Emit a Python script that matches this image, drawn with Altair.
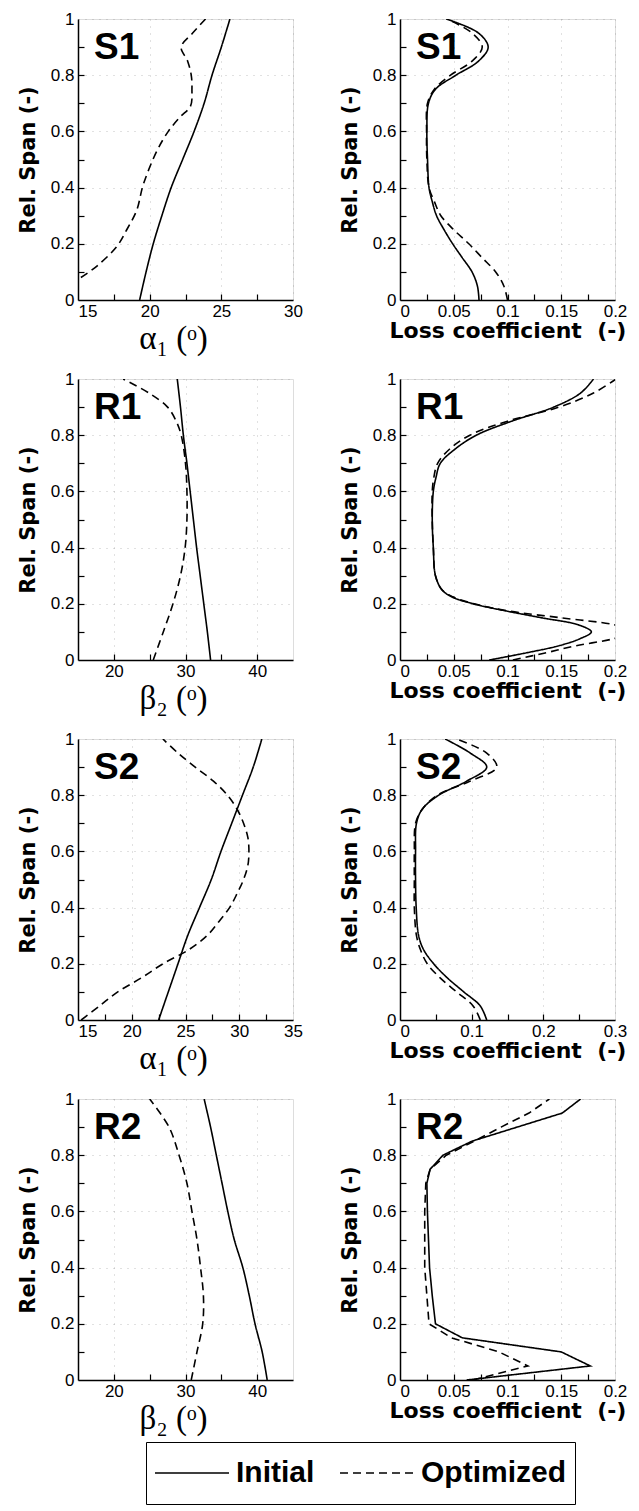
import altair as alt
import pandas as pd

SERIES = ["Initial", "Optimized"]
PANEL_NAMES = ["S1", "S1", "R1", "R1", "S2", "S2", "R2", "R2"]
Y_TITLE = "Rel. Span (-)"
LOSS_TITLE = "Loss coefficient\u00a0 (-)"
ALPHA_TITLE = "\u03b1\u2081 (\u1d52)"
BETA_TITLE = "\u03b2\u2082 (\u1d52)"

Y_LABELS = [0, 0.2, 0.4, 0.6, 0.8, 1]
Y_TICKS = [0.1, 0.2, 0.3, 0.4, 0.5, 0.6, 0.7, 0.8, 0.9]

# ---- S1 : exit flow angle alpha1 ----
s1a_span_i = [0, 0.1, 0.2, 0.3, 0.4, 0.5, 0.6, 0.7, 0.8, 0.9, 1.0]
s1a_init = [19.3, 19.75, 20.25, 20.85, 21.5, 22.3, 23.1, 23.8, 24.35, 25.0, 25.6]
s1a_span_o = [0.08, 0.12, 0.19, 0.25, 0.32, 0.41, 0.53, 0.6, 0.65, 0.69, 0.75, 0.8, 0.85, 0.9, 0.95, 1.0]
s1a_opt = [15.2, 16.3, 17.7, 18.4, 19.1, 19.55, 20.5, 21.3, 22.1, 22.85, 22.95, 22.9, 22.65, 22.2, 23.0, 23.9]

# ---- S1 : loss coefficient ----
s1l_span = [0, 0.05, 0.1, 0.15, 0.2, 0.25, 0.3, 0.35, 0.4, 0.5, 0.6, 0.7, 0.75, 0.8, 0.85, 0.9, 0.95, 1.0]
s1l_init = [0.0735, 0.072, 0.067, 0.058, 0.049, 0.041, 0.034, 0.030, 0.027, 0.0256, 0.025, 0.0265, 0.033, 0.052, 0.073, 0.082, 0.073, 0.043]
s1l_opt = [0.100, 0.0966, 0.089, 0.0765, 0.064, 0.050, 0.038, 0.032, 0.027, 0.025, 0.0247, 0.0256, 0.032, 0.047, 0.067, 0.0765, 0.067, 0.044]

# ---- R1 : exit flow angle beta2 ----
r1b_span_i = [0, 0.1, 0.2, 0.3, 0.4, 0.5, 0.6, 0.7, 0.8, 0.9, 1.0]
r1b_init = [33.5, 33.05, 32.55, 32.05, 31.55, 31.1, 30.65, 30.2, 29.7, 29.3, 28.85]
r1b_span_o = [0, 0.1, 0.2, 0.3, 0.4, 0.5, 0.6, 0.7, 0.8, 0.85, 0.9, 0.95, 1.0]
r1b_opt = [25.5, 26.9, 28.25, 29.3, 29.95, 30.2, 30.2, 30.0, 29.4, 28.7, 27.5, 24.9, 21.3]

# ---- R1 : loss coefficient ----
r1l_span = [0, 0.025, 0.05, 0.075, 0.1, 0.125, 0.15, 0.175, 0.2, 0.225, 0.25, 0.3, 0.4, 0.5, 0.6, 0.65, 0.7, 0.75, 0.8, 0.85, 0.9, 0.95, 1.0]
r1l_init = [0.083, 0.117, 0.147, 0.167, 0.178, 0.166, 0.132, 0.098, 0.068, 0.048, 0.039, 0.033, 0.031, 0.030, 0.031, 0.0335, 0.0375, 0.051, 0.071, 0.104, 0.143, 0.168, 0.180]
r1l_opt = [0.105, 0.135, 0.163, 0.198, 0.22, 0.2, 0.15, 0.1, 0.069, 0.049, 0.039, 0.033, 0.031, 0.030, 0.030, 0.0315, 0.035, 0.046, 0.065, 0.1, 0.148, 0.180, 0.201]

# ---- S2 : exit flow angle alpha1 ----
s2a_span_i = [0, 0.1, 0.2, 0.3, 0.4, 0.5, 0.6, 0.7, 0.8, 0.9, 1.0]
s2a_init = [22.5, 23.4, 24.3, 25.2, 26.3, 27.4, 28.3, 29.3, 30.3, 31.3, 32.1]
s2a_span_o = [0, 0.05, 0.1, 0.15, 0.2, 0.25, 0.3, 0.35, 0.4, 0.45, 0.5, 0.55, 0.6, 0.65, 0.7, 0.75, 0.8, 0.85, 0.9, 0.95, 1.0]
s2a_opt = [15.3, 17.0, 18.7, 20.9, 22.9, 25.3, 27.0, 28.1, 29.1, 29.8, 30.4, 30.8, 30.9, 30.8, 30.4, 29.8, 28.9, 27.6, 25.9, 24.3, 22.9]

# ---- S2 : loss coefficient ----
s2l_span = [0, 0.05, 0.1, 0.15, 0.2, 0.25, 0.3, 0.4, 0.5, 0.6, 0.7, 0.75, 0.8, 0.85, 0.9, 0.95, 1.0]
s2l_init = [0.121, 0.112, 0.089, 0.066, 0.047, 0.033, 0.026, 0.0226, 0.0217, 0.0217, 0.023, 0.031, 0.054, 0.093, 0.121, 0.098, 0.063]
s2l_opt = [0.112, 0.102, 0.079, 0.056, 0.038, 0.0286, 0.023, 0.020, 0.020, 0.020, 0.0217, 0.031, 0.052, 0.098, 0.135, 0.121, 0.079]

# ---- R2 : exit flow angle beta2 ----
r2b_span = [0, 0.1, 0.2, 0.3, 0.4, 0.5, 0.6, 0.7, 0.8, 0.9, 1.0]
r2b_init = [41.4, 40.7, 39.7, 38.9, 38.0, 36.8, 35.9, 35.1, 34.3, 33.5, 32.6]
r2b_opt = [30.8, 31.6, 32.4, 32.5, 32.1, 31.6, 30.9, 30.2, 29.1, 27.7, 25.0]

# ---- R2 : loss coefficient ----
r2l_span = [0, 0.05, 0.1, 0.15, 0.2, 0.3, 0.4, 0.5, 0.6, 0.7, 0.75, 0.8, 0.85, 0.9, 0.95, 1.0]
r2l_init = [0.062, 0.177, 0.150, 0.058, 0.033, 0.030, 0.0275, 0.0265, 0.0255, 0.025, 0.028, 0.040, 0.067, 0.109, 0.151, 0.168]
r2l_opt = [0.068, 0.119, 0.092, 0.048, 0.027, 0.025, 0.023, 0.023, 0.023, 0.024, 0.028, 0.043, 0.069, 0.094, 0.120, 0.139]

PANEL_W = 215
PANEL_H = 281

LEGEND = alt.Legend(
    orient="none", legendX=68, legendY=1423, direction="horizontal", title=None,
    symbolType="stroke", symbolSize=5476, symbolStrokeWidth=1.6, symbolStrokeColor="black",
    clipHeight=46,
    labelFont="Liberation Sans", labelFontSize=30, labelFontWeight="bold", labelColor="black",
    labelOffset=6, columnPadding=24, padding=8, strokeColor="black",
)


def panel(name, span_i, val_i, span_o, val_o, xdomain, xlabels, xticks, xtitle, serif, interp):
    df = pd.DataFrame({
        "span": list(span_i) + list(span_o),
        "val": list(val_i) + list(val_o),
        "series": [SERIES[0]] * len(span_i) + [SERIES[1]] * len(span_o),
    })
    xmin = xdomain[0]
    if xlabels[0] <= xmin:
        lab_align = {"condition": {"test": f"datum.value <= {xmin}", "value": "left"}, "value": "center"}
    else:
        lab_align = "center"
    if serif:
        title_style = dict(titleFont="Liberation Serif", titleFontSize=33, titleFontWeight="normal",
                           titlePadding=3, titleX=95)
    else:
        title_style = dict(titleFont="DejaVu Sans", titleFontSize=22, titleFontWeight="bold",
                           titlePadding=1)
    xscale = alt.Scale(domain=xdomain, nice=False, zero=False)
    yscale = alt.Scale(domain=[0, 1], nice=False, zero=False)
    x_main = alt.Axis(
        orient="bottom", values=xlabels, format=".6~g", title=xtitle, titleColor="black",
        labelFont="Liberation Sans", labelFontSize=17, labelColor="black", labelPadding=3,
        labelFlush=False, labelAlign=lab_align, labelOverlap=False,
        ticks=False, domain=True, domainColor="black", domainWidth=1.5,
        grid=True, gridColor="#8a8a8a", gridDash=[1, 6], gridWidth=1, gridOpacity=0.5,
        **title_style,
    )
    y_main = alt.Axis(
        orient="left", values=Y_LABELS, format=".6~g", title=Y_TITLE,
        titleFont="DejaVu Sans", titleFontSize=21, titleFontWeight="bold", titlePadding=12,
        titleColor="black",
        labelFont="Liberation Sans", labelFontSize=17, labelColor="black", labelPadding=4,
        labelOverlap=False,
        ticks=False, domain=True, domainColor="black", domainWidth=1.5,
        grid=True, gridColor="#8a8a8a", gridDash=[1, 6], gridWidth=1, gridOpacity=0.5,
    )
    x_tick = alt.Axis(orient="bottom", values=xticks, offset=-6, tickSize=6, tickWidth=1.2,
                      tickColor="black", domain=False, labels=False, grid=False, title=None)
    y_tick = alt.Axis(orient="left", values=Y_TICKS, offset=-6, tickSize=6, tickWidth=1.2,
                      tickColor="black", domain=False, labels=False, grid=False, title=None)

    base = alt.Chart(df)
    lines = base.mark_line(clip=True, interpolate=interp, color="black", strokeWidth=1.6).encode(
        x=alt.X("val:Q", scale=xscale, axis=x_main),
        y=alt.Y("span:Q", scale=yscale, axis=y_main),
        order=alt.Order("span:Q"),
        strokeDash=alt.StrokeDash("series:N", scale=alt.Scale(domain=SERIES, range=[[1, 0], [8, 5]]),
                                  legend=LEGEND),
    )
    ticks = base.mark_line(opacity=0, clip=True).encode(
        x=alt.X("val:Q", scale=xscale, axis=x_tick),
        y=alt.Y("span:Q", scale=yscale, axis=y_tick),
        detail="series:N",
    )
    label = alt.Chart(pd.DataFrame({"name": [name]})).mark_text(
        align="left", baseline="alphabetic", font="Liberation Sans", fontSize=37,
        fontWeight="bold", color="black",
    ).encode(x=alt.value(16), y=alt.value(40), text="name:N")
    return alt.layer(lines, ticks, label).resolve_axis(x="independent", y="independent").properties(
        width=PANEL_W, height=PANEL_H,
    )


ang_ticks_a = [17.5, 20, 22.5, 25, 27.5]
ang_ticks_b = [20, 25, 30, 35, 40]
ang_ticks_c = [17.5, 20, 22.5, 25, 27.5, 30, 32.5]
loss_ticks_2 = [0.025, 0.05, 0.075, 0.1, 0.125, 0.15, 0.175]
loss_ticks_3 = [0.05, 0.1, 0.15, 0.2, 0.25]

panels = [
    panel(PANEL_NAMES[0], s1a_span_i, s1a_init, s1a_span_o, s1a_opt, [15, 30], [15, 20, 25, 30],
          ang_ticks_a, ALPHA_TITLE, True, "catmull-rom"),
    panel(PANEL_NAMES[1], s1l_span, s1l_init, s1l_span, s1l_opt, [0, 0.2], [0, 0.05, 0.1, 0.15, 0.2],
          loss_ticks_2, LOSS_TITLE, False, "catmull-rom"),
    panel(PANEL_NAMES[2], r1b_span_i, r1b_init, r1b_span_o, r1b_opt, [15, 45], [20, 30, 40],
          ang_ticks_b, BETA_TITLE, True, "catmull-rom"),
    panel(PANEL_NAMES[3], r1l_span, r1l_init, r1l_span, r1l_opt, [0, 0.2], [0, 0.05, 0.1, 0.15, 0.2],
          loss_ticks_2, LOSS_TITLE, False, "catmull-rom"),
    panel(PANEL_NAMES[4], s2a_span_i, s2a_init, s2a_span_o, s2a_opt, [15, 35], [15, 20, 25, 30, 35],
          ang_ticks_c, ALPHA_TITLE, True, "catmull-rom"),
    panel(PANEL_NAMES[5], s2l_span, s2l_init, s2l_span, s2l_opt, [0, 0.3], [0, 0.1, 0.2, 0.3],
          loss_ticks_3, LOSS_TITLE, False, "catmull-rom"),
    panel(PANEL_NAMES[6], r2b_span, r2b_init, r2b_span, r2b_opt, [15, 45], [20, 30, 40],
          ang_ticks_b, BETA_TITLE, True, "catmull-rom"),
    panel(PANEL_NAMES[7], r2l_span, r2l_init, r2l_span, r2l_opt, [0, 0.2], [0, 0.05, 0.1, 0.15, 0.2],
          loss_ticks_2, LOSS_TITLE, False, "linear"),
]

chart = alt.concat(*panels, columns=2, spacing={"row": 79, "column": 107}, bounds="flush").resolve_scale(
    x="independent", y="independent", strokeDash="shared"
).properties(
    padding={"left": 8, "top": 1, "right": 2, "bottom": 2}
).configure_view(stroke="black", strokeWidth=1.5).configure(background="white")

chart.save("out.html", embed_options={"renderer": "svg", "actions": False})
